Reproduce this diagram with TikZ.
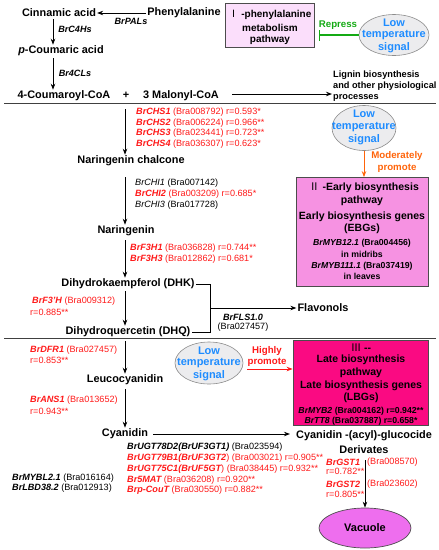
\documentclass[tikz,border=0pt]{standalone}
\usepackage{fontspec}
\setmainfont{Liberation Sans}
\newfontfamily\cjk{Noto Sans CJK SC}
\usetikzlibrary{arrows.meta,shapes.geometric}
\definecolor{genred}{RGB}{255,25,25}
\definecolor{sigblue}{RGB}{30,140,255}
\definecolor{repgreen}{RGB}{20,170,20}
\definecolor{modorange}{RGB}{255,100,10}
\definecolor{boxone}{RGB}{251,222,251}
\definecolor{boxtwo}{RGB}{246,146,226}
\definecolor{boxthree}{RGB}{250,10,130}
\definecolor{vacfill}{RGB}{238,110,238}
\definecolor{ellfill}{RGB}{236,236,238}
\newcommand{\gn}[1]{{\bfseries\itshape #1}}
\begin{document}
\begin{tikzpicture}[x=1pt,y=-1pt,
 met/.style={font=\fontsize{10.9}{12}\selectfont\bfseries, inner sep=1pt},
 gene/.style={font=\fontsize{9.1}{10}\selectfont, anchor=west, inner sep=0pt},
 red gene/.style={gene, text=genred},
 arr/.style={-{Stealth[length=6pt,width=4.5pt]}, line width=0.8pt},
 sep/.style={line width=0.7pt, draw=black!75},
 sig/.style={ellipse, draw=black!45, fill=ellfill, line width=0.6pt, inner sep=0pt},
 sigtxt/.style={font=\fontsize{11}{12}\selectfont\bfseries, text=sigblue, inner sep=0pt},
 pbox/.style={draw=black!70, line width=0.8pt, inner sep=0pt},
 btxt/.style={font=\fontsize{10.5}{12}\selectfont\bfseries, inner sep=0pt},
 bsmall/.style={font=\fontsize{8.7}{10}\selectfont\bfseries, inner sep=0pt},
 lab/.style={font=\fontsize{9.7}{10}\selectfont\bfseries, inner sep=0pt},
]
\useasboundingbox (0,0) rectangle (439,550);
\coordinate (lx) at (53,0);
\coordinate (cx) at (125,0);
\coordinate (brx) at (210,0);

% ---- section I
\node[met] (cin) at (59,13) {Cinnamic acid};
\node[met] (phe) at (184,13) {Phenylalanine};
\draw[arr] (phe.west) -- (cin.east);
\node[gene, anchor=center] (pal) at (131,21) {\gn{BrPALs}};
\node[met] (pcou) at (61,51) {\textit{p}-Coumaric acid};
\draw[arr, shorten <=1pt] (cin.south -| lx) -- (pcou.north -| lx);
\node[gene, anchor=center] (c4h) at (75,29) {\gn{BrC4Hs}};
\node[met] (coa) at (64,96) {4-Coumaroyl-CoA};
\draw[arr, shorten <=1pt] (pcou.south -| lx) -- (coa.north -| lx);
\node[gene, anchor=center] (cl4) at (75,73) {\gn{Br4CLs}};
\node[met] (plus) at (126,95) {+};
\node[met] (mal) at (181,96) {3 Malonyl-CoA};
\node[font=\fontsize{9.2}{11}\selectfont\bfseries, align=left, anchor=west, inner sep=0pt] (lig) at (333,86) {Lignin biosynthesis\\and other physiological\\processes};
\coordinate (ligin) at (332,94);
\draw[arr, shorten <=12pt] (mal.east |- ligin) -- (ligin);

\node[pbox, fill=boxone, minimum width=89, minimum height=44] (b1) at (269.5,25) {};
\node[font=\fontsize{10}{12}\selectfont\bfseries, inner sep=0pt] (b1a) at (270,15) {{\cjk\mdseries Ⅰ} -phenylalanine};
\node[font=\fontsize{10}{12}\selectfont\bfseries, inner sep=0pt] (b1b) at (270,27.5) {metabolism};
\node[font=\fontsize{10}{12}\selectfont\bfseries, inner sep=0pt] (b1c) at (270,40) {pathway};

\node[sig, minimum width=70, minimum height=41] (e1) at (394,35) {};
\node[sigtxt] (e1a) at (394,23) {Low};
\node[sigtxt] (e1b) at (394,35) {temperature};
\node[sigtxt] (e1c) at (394,47.5) {signal};
\coordinate (tbar) at (319,35);
\draw[repgreen, line width=1.1pt, -{Bar[width=11pt,line width=1.4pt]}] (e1.west) -- (tbar);
\node[lab, text=repgreen] (rep) at (338,25) {Repress};

\draw[sep] (4,103) -- (436,103);

% ---- section II
\coordinate (chstop) at (125,109);
\node[met] (nchal) at (131,161) {Naringenin chalcone};
\draw[arr] (chstop) -- (nchal.north -| cx);
\node[red gene] (chs1) at (136,112) {\gn{BrCHS1} (Bra008792) r=0.593*};
\node[red gene] (chs2) at (136,123) {\gn{BrCHS2} (Bra006224) r=0.966**};
\node[red gene] (chs3) at (136,133.5) {\gn{BrCHS3} (Bra023441) r=0.723**};
\node[red gene] (chs4) at (136,144) {\gn{BrCHS4} (Bra036307) r=0.623*};

\node[met] (nar) at (126,231) {Naringenin};
\draw[arr, shorten <=10pt] (nchal.south -| cx) -- (nar.north -| cx);
\node[gene] (chi1) at (135,183) {{\itshape BrCHI1} (Bra007142)};
\node[red gene] (chi2) at (135,194) {\gn{BrCHI2} (Bra003209) r=0.685*};
\node[gene] (chi3) at (135,205) {{\itshape BrCHI3} (Bra017728)};

\node[met] (dhk) at (128,284) {Dihydrokaempferol (DHK)};
\draw[arr, shorten <=3pt] (nar.south -| cx) -- (dhk.north -| cx);
\node[red gene] (f3h1) at (130,248) {\gn{BrF3H1} (Bra036828) r=0.744**};
\node[red gene] (f3h3) at (130,259) {\gn{BrF3H3} (Bra012862) r=0.681*};

\node[met] (dhq) at (128,332) {Dihydroquercetin (DHQ)};
\draw[arr, shorten <=1pt] (dhk.south -| cx) -- (dhq.north -| cx);
\node[red gene] (f3ph) at (32,301) {\gn{BrF3'H} (Bra009312)};
\node[red gene] (f3phr) at (30,312) {r=0.885**};

\draw[line width=0.7pt] (dhk.east) -- (dhk.east -| brx) -- (dhq.east -| brx) -- (dhq.east);
\coordinate (brm) at (210,308);
\node[met] (flav) at (323,308) {Flavonols};
\draw[arr] (brm) -- (flav.west);
\node[gene, anchor=center] (fls) at (243,317) {\gn{BrFLS1.0}};
\node[gene, anchor=center] (flsid) at (243,327) {(Bra027457)};

\coordinate (e2c) at (364,128);
\node[sig, minimum width=64, minimum height=45] (e2) at (e2c) {};
\node[sigtxt] (e2a) at (364,114) {Low};
\node[sigtxt] (e2b) at (364,127) {temperature};
\node[sigtxt] (e2c) at (364,140) {signal};
\node[lab, text=modorange] (mod1) at (397,156) {Moderately};
\node[lab, text=modorange] (mod2) at (397,168) {promote};

\node[pbox, fill=boxtwo, minimum width=132, minimum height=109] (b2) at (362,232) {};
\draw[modorange, line width=1pt, -{Stealth[length=6pt,width=4.5pt]}] (e2.south) -- (e2.south |- b2.north);
\node[btxt] (b2a) at (364,188) {{\cjk\mdseries Ⅱ} -Early biosynthesis};
\node[btxt] (b2b) at (362,201) {pathway};
\node[btxt] (b2c) at (362,217) {Early biosynthesis genes};
\node[btxt] (b2d) at (362,229) {(EBGs)};
\node[bsmall] (b2e) at (362,243) {\textit{BrMYB12.1} (Bra004456)};
\node[bsmall] (b2f) at (362,254) {in midribs};
\node[bsmall] (b2g) at (362,266) {\textit{BrMYB111.1} (Bra037419)};
\node[bsmall] (b2h) at (362,276) {in leaves};

\draw[sep] (4,338) -- (436,338);

% ---- section III
\coordinate (dfrtop) at (125,341);
\node[met] (leu) at (125,380) {Leucocyanidin};
\draw[arr] (dfrtop) -- (leu.north -| cx);
\node[red gene] (dfr) at (30,350) {\gn{BrDFR1} (Bra027457)};
\node[red gene] (dfrr) at (30,360) {r=0.853**};

\node[met] (cyan) at (125,434) {Cyanidin};
\draw[arr, shorten <=3pt] (leu.south -| cx) -- (cyan.north -| cx);
\node[red gene] (ans) at (30,400) {\gn{BrANS1} (Bra013652)};
\node[red gene] (ansr) at (30,411) {r=0.943**};

\node[met] (cag) at (364,436) {Cyanidin -(acyl)-glucocide};
\node[met] (der) at (364,450) {Derivates};
\draw[arr, shorten <=4pt, shorten >=5pt] (cyan.east) -- (cag.west |- cyan.east);
\node[gene] (ugt1) at (127,447) {\gn{BrUGT78D2(BrUF3GT1)} (Bra023594)};
\node[red gene] (ugt2) at (127,458) {\gn{BrUGT79B1(BrUF3GT2}) (Bra003021) r=0.905**};
\node[red gene] (ugt3) at (127,469) {\gn{BrUGT75C1(BrUF5GT}) (Bra038445) r=0.932**};
\node[red gene] (mat) at (127,480) {\gn{Br5MAT} (Bra036208) r=0.920**};
\node[red gene] (cou) at (127,490.5) {\gn{Brp-CouT} (Bra030550) r=0.882**};
\node[gene] (mybl) at (12,478) {\gn{BrMYBL2.1} (Bra016164)};
\node[gene] (lbd) at (12,488.5) {\gn{BrLBD38.2} (Bra012913)};

\node[ellipse, draw=black!70, fill=vacfill, line width=0.7pt, minimum width=92, minimum height=40, font=\fontsize{11}{12}\selectfont\bfseries] (vac) at (365,528) {Vacuole};
\draw[arr, shorten <=5pt] (der.south -| vac.north) -- (vac.north);
\node[red gene] (gst1) at (326,462) {\gn{BrGST1}};
\node[red gene] (gst1id) at (367,462) {(Bra008570)};
\node[red gene] (gst1r) at (326,471.5) {r=0.782**};
\node[red gene] (gst2) at (326,484) {\gn{BrGST2}};
\node[red gene] (gst2id) at (367,484) {(Bra023602)};
\node[red gene] (gst2r) at (326,494) {r=0.805**};

\node[sig, minimum width=68, minimum height=42] (e3) at (209,363) {};
\node[sigtxt] (e3a) at (209,351) {Low};
\node[sigtxt] (e3b) at (209,363) {temperature};
\node[sigtxt] (e3c) at (209,376) {signal};
\node[lab, text=genred] (hp1) at (267,351) {Highly};
\node[lab, text=genred] (hp2) at (267,362) {promote};

\node[pbox, fill=boxthree, minimum width=135, minimum height=85] (b3) at (360.5,382.5) {};
\coordinate (hpst) at (247,369);
\draw[genred, line width=1pt, -{Stealth[length=6pt,width=4.5pt]}] (hpst) -- (b3.west |- hpst);
\node[btxt] (b3a) at (361,348) {{\cjk\mdseries Ⅲ} {-}{-}};
\node[btxt] (b3b) at (361,360) {Late biosynthesis};
\node[btxt] (b3c) at (361,373) {pathway};
\node[btxt] (b3d) at (361,385.5) {Late biosynthesis genes};
\node[btxt] (b3e) at (361,398) {(LBGs)};
\node[bsmall] (b3f) at (361,411) {\textit{BrMYB2} (Bra004162) r=0.942**};
\node[bsmall] (b3g) at (361,421) {\textit{BrTT8} (Bra037887) r=0.658*};
\end{tikzpicture}
\end{document}
